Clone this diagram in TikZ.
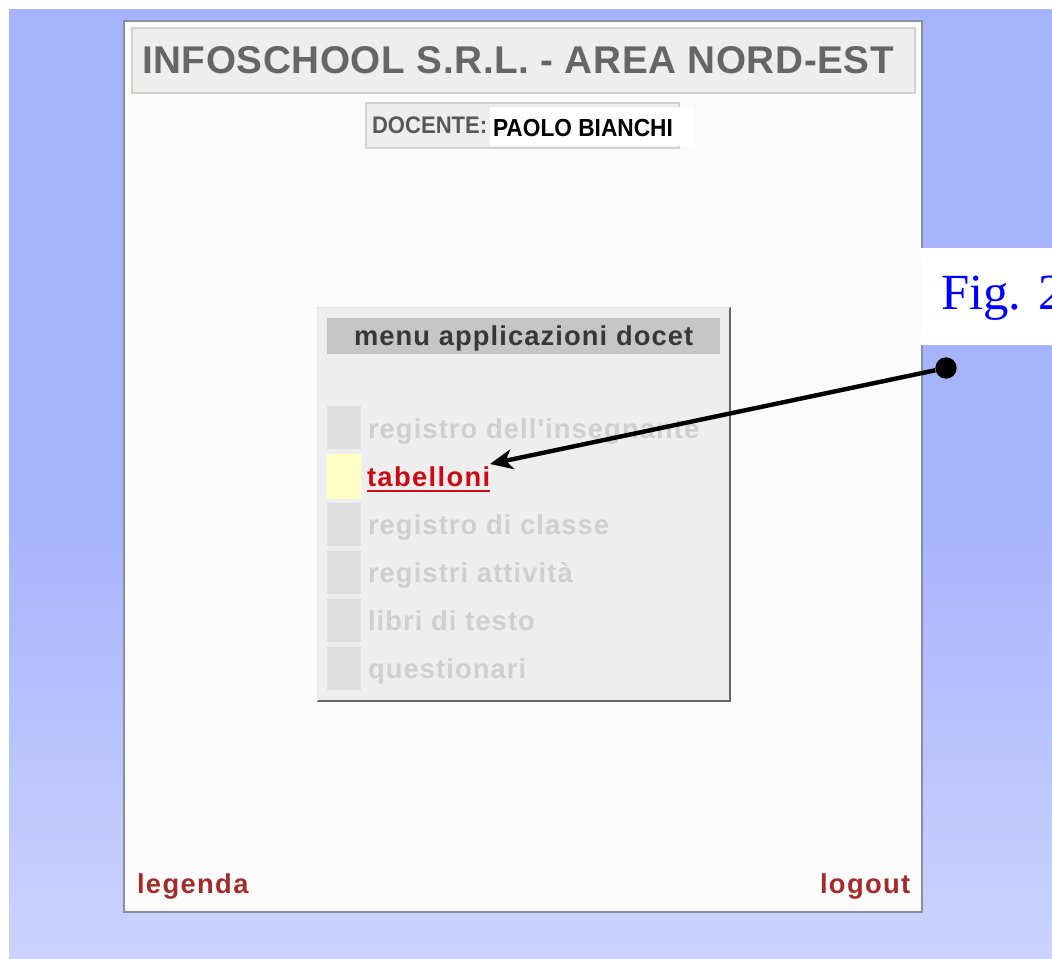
\documentclass[tikz,border=0pt]{standalone}
\usepackage{fontspec}
\setmainfont{Liberation Serif}
\setsansfont{Liberation Sans}
\newfontfamily\ttl[LetterSpace=1.6]{Liberation Sans}
\newfontfamily\mnu[LetterSpace=4]{Liberation Sans}
\newfontfamily\ftr[LetterSpace=5]{Liberation Sans}
\newfontfamily\nrw[FakeStretch=0.92]{Liberation Sans}
\usetikzlibrary{arrows.meta}
\definecolor{bgtop}{HTML}{A6B4FC}
\definecolor{bgbot}{HTML}{CBD4FE}
\definecolor{panel}{HTML}{FBFBFB}
\definecolor{band}{HTML}{EEEEEE}
\definecolor{edge}{HTML}{D2D2CE}
\definecolor{frame}{HTML}{8A8E9C}
\definecolor{cell}{HTML}{DEDEDE}
\definecolor{head}{HTML}{C6C6C6}
\definecolor{off}{HTML}{CFCFCF}
\definecolor{oxred}{HTML}{A52A2A}
\definecolor{hot}{HTML}{CC0A14}
\definecolor{pale}{HTML}{FFFFC4}
\tikzset{
  px/.style={x=0.75pt,y=-0.75pt},
  lbl/.style={inner sep=0pt,outer sep=0pt,anchor=base west},
  item/.style={lbl,font=\mnu\bfseries\fontsize{20.5}{24}\selectfont,text=off},
  swatch/.style={fill=cell,draw=none},
  foot/.style={lbl,font=\ftr\bfseries\fontsize{20.5}{24}\selectfont,text=oxred},
}
\begin{document}
\begin{tikzpicture}[px]
\useasboundingbox (0,0) rectangle (1052,959);
\fill[white] (0,0) rectangle (1052,959);
\fill[bgtop] (9,9) rectangle (1052,520);
\shade[top color=bgtop,bottom color=bgbot] (9,520) rectangle (1052,959);
% window
\fill[panel,draw=frame,line width=1.5pt] (124,21) rectangle (922,912);
\fill[band,draw=edge,line width=.9pt] (132,28) rectangle (915,93);
\node[lbl,font=\ttl\bfseries\fontsize{29}{34}\selectfont,text=black!60] (title) at (142,74) {INFOSCHOOL S.R.L. - AREA NORD-EST};
% teacher box
\fill[band,draw=edge,line width=.9pt] (366,103) rectangle (679,148);
\fill[white] (490,107) rectangle (694,146);
\node[lbl,font=\nrw\bfseries\fontsize{18}{20}\selectfont,text=black!65] (doc) at (372,134) {DOCENTE:};
\node[lbl,font=\nrw\bfseries\fontsize{18.5}{20}\selectfont,text=black] (name) at (493,137) {PAOLO BIANCHI};
% menu
\fill[band] (317,307) rectangle (730,701);
\draw[black!60,line width=1pt] (730,307) -- (730,701) -- (317,701);
\draw[black!10,line width=.6pt] (317,701) -- (317,307) -- (730,307);
\fill[head] (327,318) rectangle (720,354);
\node[lbl,font=\mnu\bfseries\fontsize{20.5}{24}\selectfont,text=black!78] (mt) at (354,345) {menu applicazioni docet};
\fill[swatch] (327,406) rectangle (361,449);
\fill[pale] (327,454) rectangle (361,499);
\fill[swatch] (327,503) rectangle (361,546);
\fill[swatch] (327,551) rectangle (361,594);
\fill[swatch] (327,599) rectangle (361,642);
\fill[swatch] (327,647) rectangle (361,690);
\node[item] (i1) at (368,438) {registro dell'insegnante};
\node[item] (i3) at (368,534) {registro di classe};
\node[item] (i4) at (368,582) {registri attività};
\node[item] (i5) at (368,630) {libri di testo};
\node[item] (i6) at (368,678) {questionari};
\node[lbl,font=\ftr\bfseries\fontsize{20.5}{24}\selectfont,text=hot] (tab) at (367,486) {tabelloni};
\draw[hot,line width=1.5pt] (tab.base west) ++(0,5) -- ++(123,0);
\node[foot] (leg) at (137,893) {legenda};
\node[foot] (log) at (820,893) {logout};
% caption
\fill[white] (921,248) rectangle (1052,345);
\node[lbl,font=\rmfamily\fontsize{38}{44}\selectfont,text=blue] (fig) at (941,309) {Fig. 2};
% connector
\node[circle,fill=black,inner sep=0pt,minimum size=16] (dot) at (946,368) {};
\coordinate (tip) at (490,464);
\draw[line width=3.3pt,-{Stealth[length=17,width=15,inset=5]}] (dot) -- (tip);
\end{tikzpicture}
\end{document}
